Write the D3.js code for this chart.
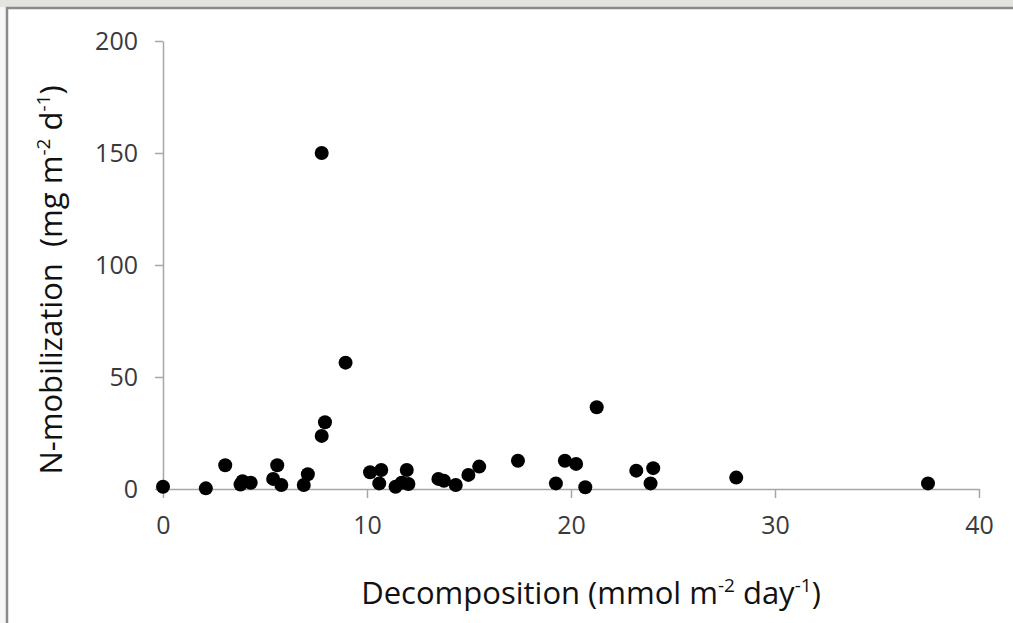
<!DOCTYPE html>
<html>
<head>
<meta charset="utf-8">
<script src="https://cdn.jsdelivr.net/npm/d3@7"></script>
<style>
  body { margin: 0; background: #fff; }
  svg { display: block; }
  .tick text { font-family: "Open Sans", sans-serif; fill: #3a3a3a; }
</style>
</head>
<body>
<svg id="chart" width="1013" height="623"></svg>
<script>
// decomposition (mmol m-2 day-1)
const decomp = [0.0, 2.1, 3.05, 3.8, 3.9, 4.3, 5.6, 5.4, 5.8, 6.9, 7.1, 7.78, 7.94, 7.78, 8.95,
  10.15, 10.7, 10.6, 11.4, 11.7, 11.95, 12.03, 13.5, 13.77, 14.35, 14.97, 15.5,
  17.4, 19.26, 19.7, 20.25, 20.7, 21.26, 23.2, 24.03, 23.9, 28.1, 37.5];
// N-mobilization (mg m-2 d-1)
const nmob = [1.0, 0.3, 10.6, 2.0, 3.5, 2.8, 10.6, 4.5, 1.8, 1.8, 6.6, 23.7, 29.8, 150, 56.4,
  7.5, 8.5, 2.5, 1.0, 2.8, 8.5, 2.2, 4.5, 3.7, 1.8, 6.3, 10.0,
  12.6, 2.5, 12.6, 11.2, 0.8, 36.5, 8.2, 9.3, 2.5, 5.1, 2.5];
const xTicks = [0, 10, 20, 30, 40];
const yTicks = [0, 50, 100, 150, 200];

const svg = d3.select('#chart');
const margin = { top: 41, right: 34, bottom: 134, left: 163 };
const width = +svg.attr('width');
const height = +svg.attr('height');
const innerWidth = width - margin.left - margin.right;
const innerHeight = height - margin.top - margin.bottom;

// frame of the original screenshot
svg.append('rect').attr('x', 0).attr('y', 0).attr('width', width).attr('height', 7)
  .attr('fill', '#e4e4df');
svg.append('rect').attr('x', 0).attr('y', 7).attr('width', 6).attr('height', height - 7)
  .attr('fill', '#f6f6f6');
svg.append('line').attr('x1', 6).attr('x2', width).attr('y1', 8).attr('y2', 8)
  .attr('stroke', '#8a8a8a').attr('stroke-width', 2.5);
svg.append('line').attr('x1', 7).attr('x2', 7).attr('y1', 7).attr('y2', height)
  .attr('stroke', '#8a8a8a').attr('stroke-width', 2.5);

const g = svg.append('g')
  .attr('transform', `translate(${margin.left}, ${margin.top})`);

const x = d3.scaleLinear().domain([0, 40]).range([0, innerWidth]);
const y = d3.scaleLinear().domain([0, 200]).range([innerHeight, 0]);

const xAxis = g.append('g')
  .attr('transform', `translate(0, ${innerHeight})`)
  .call(d3.axisBottom(x).tickValues(xTicks).tickSize(9).tickSizeOuter(0).tickPadding(18));
const yAxis = g.append('g')
  .call(d3.axisLeft(y).tickValues(yTicks).tickSize(8).tickSizeOuter(0).tickPadding(17));

[xAxis, yAxis].forEach(a => {
  a.select('.domain').attr('stroke', '#a6a6a6').attr('stroke-width', 1.5);
  a.selectAll('.tick line').attr('stroke', '#a6a6a6').attr('stroke-width', 1.5);
  a.selectAll('.tick text').style('font-size', '25px');
});

const points = decomp.map((d, i) => ({ x: d, y: nmob[i] }));
g.selectAll('circle')
  .data(points)
  .enter()
  .append('circle')
  .attr('cx', d => x(d.x))
  .attr('cy', d => y(d.y))
  .attr('r', 7)
  .attr('fill', '#000');

// axis titles
const xt = svg.append('text')
  .attr('x', 591).attr('y', 604)
  .attr('text-anchor', 'middle')
  .style('font-family', '"Open Sans", sans-serif')
  .style('font-size', '31px')
  .attr('fill', '#111');
xt.append('tspan').text('Decomposition (mmol m');
xt.append('tspan').attr('dy', -12).style('font-size', '19px').text('-2');
xt.append('tspan').attr('dy', 12).text(' day');
xt.append('tspan').attr('dy', -12).style('font-size', '19px').text('-1');
xt.append('tspan').attr('dy', 12).text(')');

const yt = svg.append('text')
  .attr('transform', 'translate(62, 280) rotate(-90)')
  .attr('text-anchor', 'middle')
  .style('font-family', '"Open Sans", sans-serif')
  .style('font-size', '31px')
  .attr('fill', '#111');
yt.append('tspan').text('N-mobilization\u00a0 (mg m');
yt.append('tspan').attr('dy', -12).style('font-size', '19px').text('-2');
yt.append('tspan').attr('dy', 12).text(' d');
yt.append('tspan').attr('dy', -12).style('font-size', '19px').text('-1');
yt.append('tspan').attr('dy', 12).text(')');
</script>
</body>
</html>
